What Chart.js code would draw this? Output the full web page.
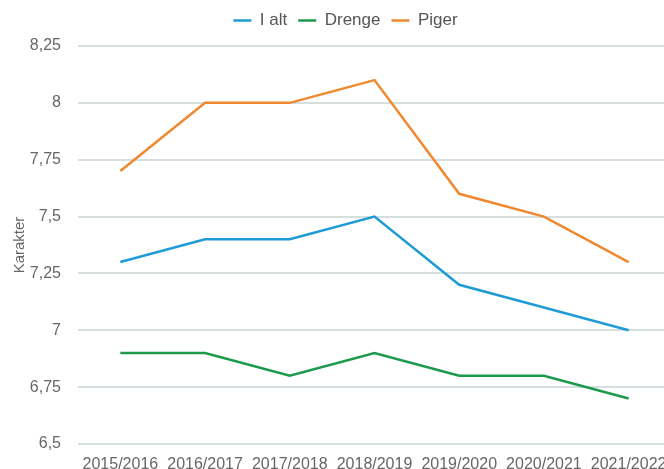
<!DOCTYPE html>
<html>
<head>
<meta charset="utf-8">
<script src="https://cdn.jsdelivr.net/npm/chart.js@4/dist/chart.umd.min.js"></script>
<style>
  html, body { margin: 0; padding: 0; background: #fff; overflow: hidden; }
  #wrap { width: 690px; height: 469px; }
</style>
</head>
<body>
<div id="wrap"><canvas id="chart" width="690" height="469"></canvas></div>
<script>
var years = ["2015/2016", "2016/2017", "2017/2018", "2018/2019", "2019/2020", "2020/2021", "2021/2022"];
var iAlt = [7.3, 7.4, 7.4, 7.5, 7.2, 7.1, 7.0];
var drenge = [6.9, 6.9, 6.8, 6.9, 6.8, 6.8, 6.7];
var piger = [7.7, 8.0, 8.0, 8.1, 7.6, 7.5, 7.3];

Chart.defaults.font.family = "'Liberation Sans', Arial, sans-serif";
Chart.defaults.font.size = 16;
Chart.defaults.color = "#666";

function line(label, data, color){
  return {
    label: label,
    data: data,
    borderColor: color,
    backgroundColor: color,
    borderWidth: 2.5,
    tension: 0,
    pointRadius: 0,
    fill: false
  };
}

// a bit more room under the legend
var legendGap = {
  id: "legendGap",
  beforeInit: function(chart){
    var fit = chart.legend.fit;
    chart.legend.fit = function(){
      fit.bind(chart.legend)();
      this.height += 7;
    };
  }
};

var ctx = document.getElementById("chart").getContext("2d");
new Chart(ctx, {
  type: "line",
  data: {
    labels: years,
    datasets: [
      line("I alt", iAlt, "#1f9bd7"),
      line("Drenge", drenge, "#1b9a4c"),
      line("Piger", piger, "#f0882f")
    ]
  },
  plugins: [legendGap],
  options: {
    responsive: false,
    animation: false,
    layout: { padding: { top: 1, right: 19, bottom: 0, left: 20 } },
    plugins: {
      legend: {
        labels: {
          color: "#555",
          font: { size: 17 },
          usePointStyle: true,
          pointStyle: "line",
          pointStyleWidth: 18,
          padding: 11
        }
      },
      tooltip: { enabled: false }
    },
    scales: {
      x: {
        offset: true,
        grid: { display: false, drawTicks: false },
        border: { display: false },
        ticks: { padding: 10.5, maxRotation: 0, autoSkip: false },
        afterFit: function(scale){ scale.height = 25; }
      },
      y: {
        min: 6.5,
        max: 8.25,
        grid: { color: "#d6dfe0", lineWidth: 2, drawTicks: false },
        border: { display: false },
        ticks: {
          stepSize: 0.25,
          padding: 17,
          callback: function(v){ return v.toString().replace(".", ","); }
        },
        title: { display: true, text: "Karakter", font: { size: 15 }, padding: { top: -9, bottom: 0 } },
        afterFit: function(scale){
          scale.width = 58;
          scale.paddingTop = 10;
          scale.paddingBottom = 10;
        }
      }
    }
  }
});
</script>
</body>
</html>
